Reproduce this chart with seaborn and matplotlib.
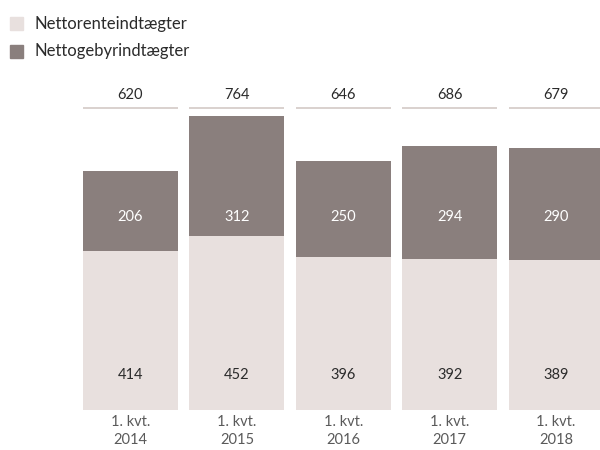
import matplotlib
matplotlib.use("Agg")
import matplotlib.pyplot as plt
import seaborn as sns
import pandas as pd
from matplotlib.patches import Rectangle

categories = ["1. kvt.\n2014", "1. kvt.\n2015", "1. kvt.\n2016", "1. kvt.\n2017", "1. kvt.\n2018"]
renteindt = [414, 452, 396, 392, 389]
gebyrindt = [206, 312, 250, 294, 290]
totals = [620, 764, 646, 686, 679]
series_names = ["Nettorenteindtægter", "Nettogebyrindtægter"]

c_light = "#E8E0DE"
c_dark = "#8A7F7D"
c_line = "#D3C9C6"
c_text = "#2B2B2B"

sns.set_theme(style="white")
plt.rcParams["font.family"] = ["Lato", "DejaVu Sans"]

df = pd.DataFrame({"cat": categories, "rente": renteindt, "gebyr": gebyrindt})

fig = plt.figure(figsize=(6, 4.5), dpi=100)
ax = fig.add_axes([0, 0, 1, 1])
w = 0.893
sns.barplot(data=df, x="cat", y="rente", color=c_light, width=w, ax=ax,
            saturation=1, linewidth=0)
sns.barplot(data=df, x="cat", y="gebyr", bottom=df["rente"], color=c_dark, width=w, ax=ax,
            saturation=1, linewidth=0)

ax.set_xlim(-1.2265, 4.4126)
ax.set_ylim(-103.8, 1064.4)
ax.axis("off")

for i in range(len(categories)):
    ax.plot([i - w / 2, i + w / 2], [783, 783], color=c_line, lw=1.2, solid_capstyle="butt")
    ax.text(i, 818, str(totals[i]), ha="center", va="center", fontsize=10.5, color=c_text)
    ax.text(i, 501, str(gebyrindt[i]), ha="center", va="center", fontsize=10.5, color="white")
    ax.text(i, 91, str(renteindt[i]), ha="center", va="center", fontsize=10.5, color=c_text)
    ax.text(i, -12, categories[i], ha="center", va="top", fontsize=10.5, color="#5A5A5A",
            linespacing=1.4)

# legend
for j, (name, col) in enumerate(zip(series_names, [c_light, c_dark])):
    yy = 1 - (23.5 + 27.5 * j) / 450
    fig.patches.append(Rectangle((10 / 600, yy - 6.5 / 450), 13 / 600, 13 / 450,
                                 transform=fig.transFigure, color=col, figure=fig))
    fig.text(35 / 600, yy, name, ha="left", va="center", fontsize=12, color=c_text)

fig.savefig("out.png", dpi=100)
